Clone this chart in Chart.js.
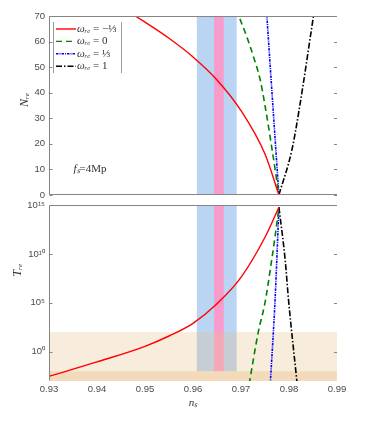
<!DOCTYPE html>
<html>
<head>
<meta charset="utf-8">
<script src="https://cdn.jsdelivr.net/npm/chart.js@4.4.0/dist/chart.umd.min.js"></script>
<style>
  body { margin: 0; background: #fff; }
  #wrap { position: relative; width: 374px; height: 448px; }
  canvas { position: absolute; left: 0; }
  #topChart { top: 0; }
  #botChart { top: 190px; }
</style>
</head>
<body>
<div id="wrap">
  <canvas id="topChart" width="374" height="210" style="width:374px;height:210px"></canvas>
  <canvas id="botChart" width="374" height="258" style="width:374px;height:258px"></canvas>
</div>
<script>
// series labels and styles
const symbols = ['ωᵣₑ', 'ωᵣₑ', 'ωᵣₑ', 'ωᵣₑ'];
const values = [' = −⅓', ' = 0', ' = ⅓', ' = 1'];
const labels = symbols.map((s, i) => s + values[i]);
const colors = ['#ff0000', '#008000', '#0000ff', '#000000'];
const dashes = [[], [6, 4], [2.5, 1, 1, 1], [6, 2, 1.5, 2]];

// top panel: N_re against n_s
const nsRedN   = [0.945, 0.95, 0.955, 0.96, 0.965, 0.97, 0.975, 0.9779];
const nRed     = [73.5, 67.6, 61.3, 54.0, 45.0, 33.0, 16.0, 0];
const nsGreenN = [0.9690, 0.9712, 0.9726, 0.9740, 0.9750, 0.9766, 0.9779];
const nGreen   = [72.5, 61.9, 54.1, 45, 35, 16.3, 0];
const nsBlueN  = [0.9753, 0.9767, 0.9779];
const nBlue    = [72.5, 33.2, 0];
const nsBlackN = [0.9779, 0.9806, 0.9821, 0.9853];
const nBlack   = [0, 17.6, 33.2, 72.5];

// bottom panel: T_re against n_s
const nsRedT   = [0.93, 0.94, 0.95, 0.955, 0.96, 0.965, 0.97, 0.975, 0.9779];
const tRed     = [3.0e-3, 0.089, 3.5, 40, 790, 7.9e4, 4e7, 5e11, 6e14];
const nsGreenT = [0.9717, 0.9736, 0.9750, 0.9764, 0.9771, 0.9779];
const tGreen   = [5e-4, 1e2, 1e5, 2.5e9, 6e11, 6e14];
const nsBlueT  = [0.9761, 0.9771, 0.9779];
const tBlue    = [5e-4, 2e5, 6e14];
const nsBlackT = [0.9779, 0.9792, 0.9799, 0.9817];
const tBlack   = [6e14, 2.5e9, 2e5, 5e-4];

// shaded regions
const nsWide   = [0.9608, 0.9691];
const nsNarrow = [0.9644, 0.9664];
const tLight   = [1e-3, 1e2];
const tDark    = [1e-3, 1e-2];
const tStripFloor = 1e-2;

const nTicks = [0, 10, 20, 30, 40, 50, 60, 70];
const tTicks = [1e0, 1e5, 1e10, 1e15];

const pts = (xs, ys) => xs.map((x, i) => ({ x: x, y: ys[i] }));
const sup = n => String(n).split('').map(c => '⁰¹²³⁴⁵⁶⁷⁸⁹'[+c]).join('');

function makeSets(groups) {
  return groups.map((g, i) => ({
    label: labels[i],
    data: pts(g[0], g[1]),
    showLine: true,
    borderColor: colors[i],
    borderDash: dashes[i],
    borderWidth: i == 0 ? 1.4 : 1.6,
    pointRadius: 0,
    cubicInterpolationMode: 'monotone',
    fill: false
  }));
}

const tickFont = { family: '"Liberation Sans", Arial, sans-serif', size: 9.5 };
const tickColor = '#4a4a4a';
const serifIt = 'italic 11px "Liberation Serif", serif';
const serif = '11px "Liberation Serif", serif';

const bands = {
  id: 'bands',
  beforeDatasetsDraw(chart, args, o) {
    const { ctx, chartArea: a, scales: { x, y } } = chart;
    ctx.save();
    ctx.beginPath();
    ctx.rect(a.left, a.top, a.right - a.left, a.bottom - a.top);
    ctx.clip();
    const floor = o.floor == null ? a.bottom : y.getPixelForValue(o.floor);
    const strip = (r, col) => {
      const x0 = x.getPixelForValue(r[0]), x1 = x.getPixelForValue(r[1]);
      ctx.fillStyle = col;
      ctx.fillRect(x0, a.top, x1 - x0, floor - a.top);
    };
    strip(nsWide, 'rgb(185,213,243)');
    strip(nsNarrow, 'rgb(248,156,203)');
    (o.layers || []).forEach(l => {
      const y0 = y.getPixelForValue(l[1]), y1 = y.getPixelForValue(l[0]);
      ctx.fillStyle = l[2];
      ctx.fillRect(a.left, y0, a.right - a.left, y1 - y0);
    });
    ctx.restore();
  }
};

const frame = {
  id: 'frame',
  afterDatasetsDraw(chart, args, o) {
    const { ctx, chartArea: a } = chart;
    const L = Math.round(a.left) + 0.5, T = Math.round(a.top) + 0.5;
    const B = Math.round(a.bottom) - 0.5, R = Math.round(a.right);
    ctx.save();
    ctx.strokeStyle = '#858585';
    ctx.lineWidth = 1;
    ctx.beginPath();
    ctx.moveTo(L, B); ctx.lineTo(L, T); ctx.lineTo(R, T);
    if (o.bottom) { ctx.moveTo(L, B); ctx.lineTo(R, B); }
    ctx.stroke();
    ctx.beginPath();
    const y = chart.scales.y;
    y.ticks.forEach(t => {
      const py = Math.round(y.getPixelForValue(t.value)) + 0.5;
      ctx.moveTo(L, py); ctx.lineTo(L + 3, py);
      ctx.moveTo(R, py); ctx.lineTo(R - 3, py);
    });
    ctx.stroke();
    // y axis title
    ctx.fillStyle = '#333';
    ctx.font = 'italic 12px "Liberation Serif", serif';
    ctx.textAlign = 'center';
    ctx.textBaseline = 'middle';
    ctx.translate(o.titleX, a.top + o.titleDy);
    ctx.rotate(-Math.PI / 2);
    ctx.fillText(o.title, 0, 0);
    ctx.restore();
  }
};

// italic symbol followed by upright rest
function mixed(ctx, it, up, x, y) {
  ctx.font = serifIt;
  ctx.fillText(it, x, y);
  const w = ctx.measureText(it).width;
  ctx.font = serif;
  ctx.fillText(up, x + w, y);
}

const legendBox = {
  id: 'legendBox',
  afterDatasetsDraw(chart) {
    const { ctx, chartArea: a } = chart;
    const x0 = a.left + 4, x1 = a.left + 72, y0 = a.top + 6, y1 = a.top + 57;
    ctx.save();
    ctx.fillStyle = '#fff';
    ctx.fillRect(x0, y0, x1 - x0, y1 - y0);
    ctx.strokeStyle = '#9a9a9a';
    ctx.lineWidth = 1;
    ctx.beginPath();
    ctx.moveTo(x0 + 0.5, y0); ctx.lineTo(x0 + 0.5, y1);
    ctx.moveTo(x1 + 0.5, y0); ctx.lineTo(x1 + 0.5, y1);
    ctx.stroke();
    ctx.textBaseline = 'middle';
    chart.data.datasets.forEach((d, i) => {
      const yy = y0 + 7 + i * 12.4;
      ctx.strokeStyle = d.borderColor;
      ctx.lineWidth = 1.4;
      ctx.setLineDash(d.borderDash);
      ctx.beginPath();
      ctx.moveTo(x0 + 3, yy); ctx.lineTo(x0 + 23, yy);
      ctx.stroke();
      ctx.setLineDash([]);
      ctx.fillStyle = '#333';
      mixed(ctx, symbols[i], values[i], x0 + 24, yy);
    });
    // annotation
    const { x, y } = chart.scales;
    ctx.fillStyle = '#333';
    mixed(ctx, 'fₛ', '=4Mp', x.getPixelForValue(0.9351), y.getPixelForValue(10));
    ctx.restore();
  }
};

new Chart(document.getElementById('topChart'), {
  type: 'scatter',
  data: { datasets: makeSets([[nsRedN, nRed], [nsGreenN, nGreen], [nsBlueN, nBlue], [nsBlackN, nBlack]]) },
  options: {
    responsive: false,
    animation: false,
    layout: { padding: { left: 9, right: 37, top: 16, bottom: 15 } },
    plugins: {
      legend: { display: false },
      tooltip: { enabled: false },
      bands: {},
      frame: { bottom: true, title: 'Nᵣₑ', titleX: 25, titleDy: 84 }
    },
    scales: {
      x: { type: 'linear', min: 0.93, max: 0.99, display: false },
      y: {
        min: 0, max: 70,
        afterFit: s => { s.width = 40; },
        afterBuildTicks: s => { s.ticks = nTicks.map(v => ({ value: v })); },
        grid: { display: false, drawTicks: false },
        border: { display: false },
        ticks: { font: tickFont, color: tickColor, padding: 4 }
      }
    }
  },
  plugins: [bands, frame, legendBox]
});

new Chart(document.getElementById('botChart'), {
  type: 'scatter',
  data: { datasets: makeSets([[nsRedT, tRed], [nsGreenT, tGreen], [nsBlueT, tBlue], [nsBlackT, tBlack]]) },
  options: {
    responsive: false,
    animation: false,
    layout: { padding: { left: 9, right: 37, top: 15, bottom: 38 } },
    plugins: {
      legend: { display: false },
      tooltip: { enabled: false },
      bands: {
        floor: tStripFloor,
        layers: [[tLight[0], tLight[1], 'rgba(232,192,138,0.3)'], [tDark[0], tDark[1], 'rgba(232,192,138,0.4)']]
      },
      frame: { bottom: false, title: 'Tᵣₑ', titleX: 18, titleDy: 65 }
    },
    scales: {
      x: {
        type: 'linear', min: 0.93, max: 0.99,
        afterFit: s => { s.height = 29; },
        grid: { display: false, drawTicks: false },
        border: { display: false },
        ticks: { stepSize: 0.01, font: tickFont, color: tickColor, padding: 3, maxRotation: 0,
                 callback: v => v.toFixed(2) },
        title: { display: true, text: 'nₛ', color: '#333', padding: 0,
                 font: { family: '"Liberation Serif", serif', style: 'italic', size: 11 } }
      },
      y: {
        type: 'logarithmic', min: 1e-3, max: 1e15,
        afterFit: s => { s.width = 40; },
        afterBuildTicks: s => { s.ticks = tTicks.map(v => ({ value: v })); },
        grid: { display: false, drawTicks: false },
        border: { display: false },
        ticks: { font: tickFont, color: tickColor, padding: 4,
                 callback: v => '10' + sup(Math.round(Math.log10(v))) }
      }
    }
  },
  plugins: [bands, frame]
});
</script>
</body>
</html>
